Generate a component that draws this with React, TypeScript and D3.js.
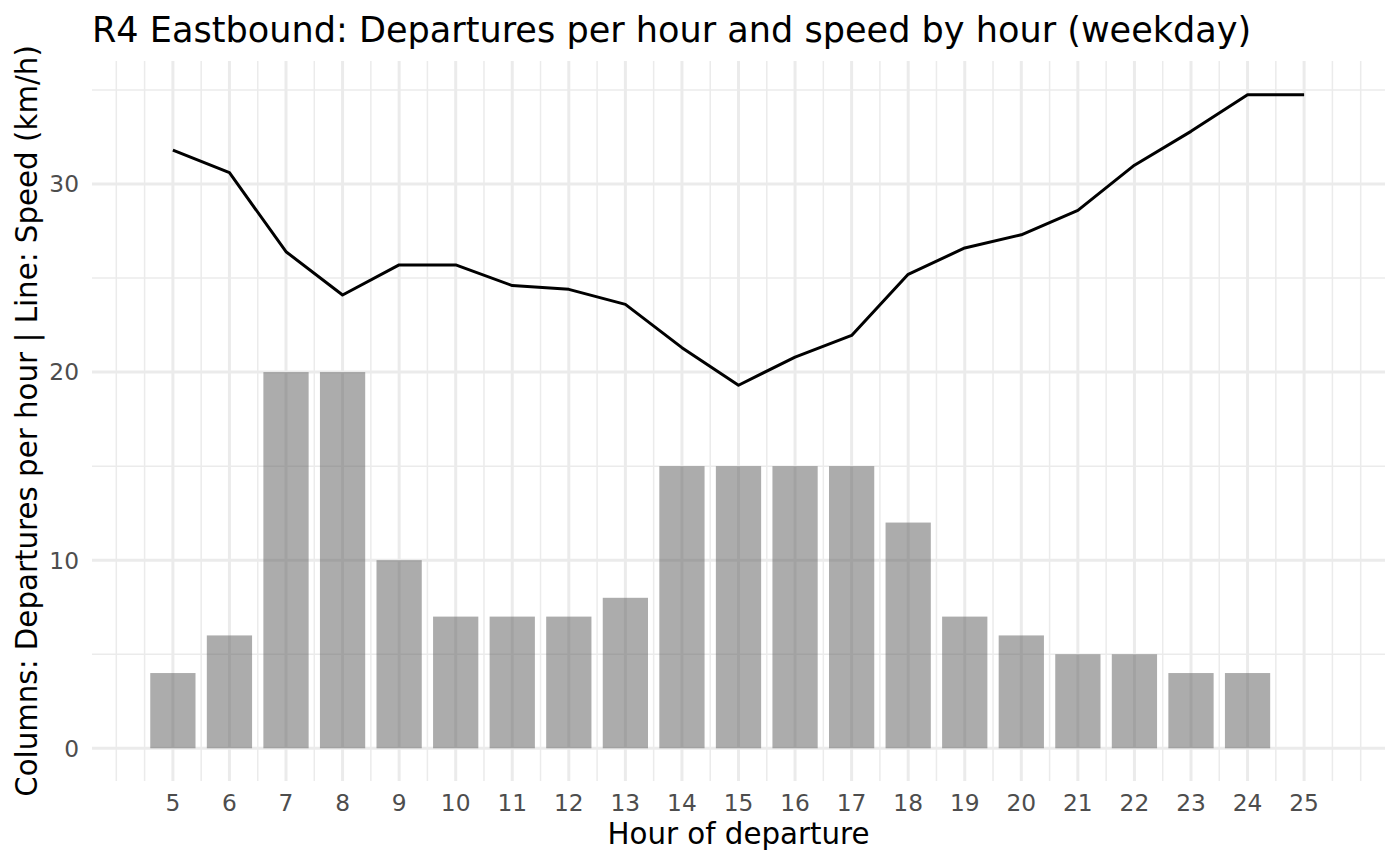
import React, { useEffect, useRef } from 'react';
import * as d3 from 'd3';

// Hours of departure (columns) and speed line hours
const barHours = [5, 6, 7, 8, 9, 10, 11, 12, 13, 14, 15, 16, 17, 18, 19, 20, 21, 22, 23, 24];
const departures = [4, 6, 20, 20, 10, 7, 7, 7, 8, 15, 15, 15, 15, 12, 7, 6, 5, 5, 4, 4];

const lineHours = [5, 6, 7, 8, 9, 10, 11, 12, 13, 14, 15, 16, 17, 18, 19, 20, 21, 22, 23, 24, 25];
const speeds = [31.8, 30.6, 26.4, 24.1, 25.7, 25.7, 24.6, 24.4, 23.6, 21.3, 19.3, 20.8, 21.95, 25.2, 26.6, 27.3, 28.6, 31.0, 32.8, 34.75, 34.75];

const xTicks = d3.range(5, 26);
const xMinor = [4, ...d3.range(4.5, 26, 1), 26];
const yTicks = [0, 10, 20, 30];
const yMinor = [5, 15, 25, 35];

const W = 1400;
const H = 865;
const FONT = '"DejaVu Sans", Verdana, sans-serif';

export default function App() {
  const svgRef = useRef<SVGSVGElement>(null);

  useEffect(() => {
    if (!svgRef.current) return;
    const svg = d3.select(svgRef.current);
    svg.selectAll('*').remove();

    const panel = { left: 92, right: 1385, top: 61, bottom: 781 };

    const x = d3.scaleLinear().domain([3.57, 26.43]).range([panel.left, panel.right]);
    const y = d3.scaleLinear().domain([-1.74, 36.54]).range([panel.bottom, panel.top]);

    const grid = svg.append('g').attr('class', 'grid');

    // minor grid
    grid.selectAll('.vminor')
      .data(xMinor)
      .enter()
      .append('line')
      .attr('x1', d => x(d)).attr('x2', d => x(d))
      .attr('y1', panel.top).attr('y2', panel.bottom)
      .style('stroke', '#ebebeb')
      .style('stroke-width', 1.5);

    grid.selectAll('.hminor')
      .data(yMinor)
      .enter()
      .append('line')
      .attr('x1', panel.left).attr('x2', panel.right)
      .attr('y1', d => y(d)).attr('y2', d => y(d))
      .style('stroke', '#ebebeb')
      .style('stroke-width', 1.5);

    // major grid
    grid.selectAll('.vmajor')
      .data(xTicks)
      .enter()
      .append('line')
      .attr('x1', d => x(d)).attr('x2', d => x(d))
      .attr('y1', panel.top).attr('y2', panel.bottom)
      .style('stroke', '#ebebeb')
      .style('stroke-width', 3);

    grid.selectAll('.hmajor')
      .data(yTicks)
      .enter()
      .append('line')
      .attr('x1', panel.left).attr('x2', panel.right)
      .attr('y1', d => y(d)).attr('y2', d => y(d))
      .style('stroke', '#ebebeb')
      .style('stroke-width', 3);

    // Columns: departures per hour
    const barW = x(0.8) - x(0);
    svg.append('g')
      .selectAll('rect')
      .data(barHours.map((h, i) => ({ h, v: departures[i] })))
      .enter()
      .append('rect')
      .attr('x', d => x(d.h) - barW / 2)
      .attr('width', barW)
      .attr('y', d => y(d.v))
      .attr('height', d => y(0) - y(d.v))
      .attr('fill', '#595959')
      .attr('fill-opacity', 0.5);

    // Line: speed
    const line = d3.line<number>()
      .x((d, i) => x(lineHours[i]))
      .y(d => y(d));

    svg.append('path')
      .datum(speeds)
      .attr('d', line)
      .attr('fill', 'none')
      .attr('stroke', '#000000')
      .attr('stroke-width', 3)
      .attr('stroke-linejoin', 'round');

    // Axis tick labels
    svg.append('g')
      .selectAll('text')
      .data(xTicks)
      .enter()
      .append('text')
      .attr('x', d => x(d))
      .attr('y', 811)
      .attr('text-anchor', 'middle')
      .text(d => d)
      .style('font-family', FONT)
      .style('font-size', '23.3px')
      .style('fill', '#4d4d4d');

    svg.append('g')
      .selectAll('text')
      .data(yTicks)
      .enter()
      .append('text')
      .attr('x', 79)
      .attr('y', d => y(d))
      .attr('dy', '0.36em')
      .attr('text-anchor', 'end')
      .text(d => d)
      .style('font-family', FONT)
      .style('font-size', '23.3px')
      .style('fill', '#4d4d4d');

    // Axis titles
    svg.append('text')
      .attr('x', (panel.left + panel.right) / 2)
      .attr('y', 844)
      .attr('text-anchor', 'middle')
      .text('Hour of departure')
      .style('font-family', FONT)
      .style('font-size', '29.3px')
      .style('fill', '#000000');

    svg.append('text')
      .attr('transform', `translate(37,${(panel.top + panel.bottom) / 2}) rotate(-90)`)
      .attr('text-anchor', 'middle')
      .text('Columns: Departures per hour | Line: Speed (km/h)')
      .style('font-family', FONT)
      .style('font-size', '29.3px')
      .style('fill', '#000000');

    // Title
    svg.append('text')
      .attr('x', panel.left)
      .attr('y', 42)
      .text('R4 Eastbound: Departures per hour and speed by hour (weekday)')
      .style('font-family', FONT)
      .style('font-size', '35.1px')
      .style('fill', '#000000');
  }, []);

  return (
    <div style={{ position: 'absolute', left: 0, top: 0, width: W, height: H, background: '#ffffff' }}>
      <svg ref={svgRef} width={W} height={H} viewBox={`0 0 ${W} ${H}`} role="img" aria-label="R4 Eastbound departures and speed by hour" />
    </div>
  );
}
